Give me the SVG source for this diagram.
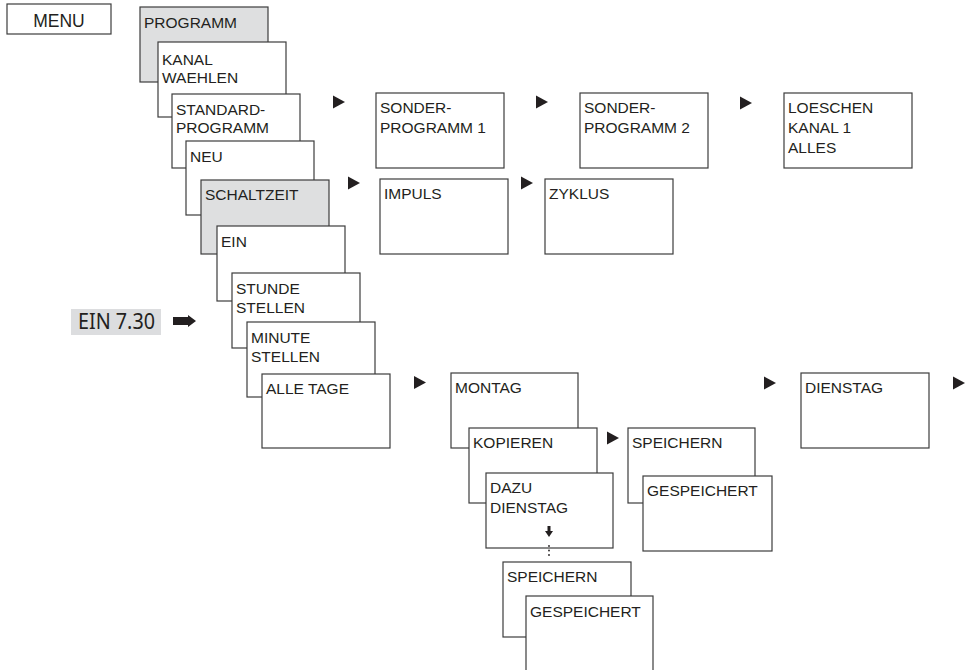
<svg xmlns="http://www.w3.org/2000/svg" width="967" height="670" viewBox="0 0 967 670">
<style>
.b{fill:#fff;stroke:#3c3c3c;stroke-width:1.2}
.g{fill:#dedfe0;stroke:#3c3c3c;stroke-width:1.2}
text{font-family:"Liberation Sans",Arial,sans-serif;font-size:15.5px;fill:#231f20}
.tri{fill:#231f20}
</style>
<defs>
<path id="tri" d="M0,-6.5 L12,0 L0,6.5 Z"/>
</defs>
<rect width="967" height="670" fill="#fff"/>
<g id="menu"><rect class="b" x="7" y="4" width="104" height="30"/><text x="59" y="27" text-anchor="middle" style="font-size:17.5px">MENU</text></g>
<g id="programm"><rect class="g" x="140" y="7" width="128" height="75"/><text x="144" y="28">PROGRAMM</text></g>
<g id="kanal"><rect class="b" x="158" y="42" width="128" height="75"/><text x="162" y="65">KANAL</text><text x="162" y="83">WAEHLEN</text></g>
<g id="standard"><rect class="b" x="172" y="94" width="128" height="74"/><text x="176" y="115">STANDARD-</text><text x="176" y="133">PROGRAMM</text></g>
<g id="neu"><rect class="b" x="186" y="141" width="128" height="74"/><text x="190" y="162">NEU</text></g>
<g id="schaltzeit"><rect class="g" x="201" y="180" width="128" height="74"/><text x="205" y="200">SCHALTZEIT</text></g>
<g id="ein"><rect class="b" x="217" y="226" width="128" height="75"/><text x="221" y="247">EIN</text></g>
<g id="stunde"><rect class="b" x="232" y="273" width="128" height="75"/><text x="236" y="294">STUNDE</text><text x="236" y="313">STELLEN</text></g>
<g id="minute"><rect class="b" x="247" y="322" width="128" height="75"/><text x="251" y="343">MINUTE</text><text x="251" y="362">STELLEN</text></g>
<g id="alletage"><rect class="b" x="262" y="374" width="128" height="74"/><text x="266" y="394">ALLE TAGE</text></g>
<g id="sonder1"><rect class="b" x="376" y="93" width="128" height="75"/><text x="380" y="113">SONDER-</text><text x="380" y="133">PROGRAMM 1</text></g>
<g id="sonder2"><rect class="b" x="580" y="93" width="128" height="75"/><text x="584" y="113">SONDER-</text><text x="584" y="133">PROGRAMM 2</text></g>
<g id="loeschen"><rect class="b" x="784" y="93" width="128" height="75"/><text x="788" y="113">LOESCHEN</text><text x="788" y="133">KANAL 1</text><text x="788" y="153">ALLES</text></g>
<g id="impuls"><rect class="b" x="380" y="179" width="128" height="75"/><text x="384" y="199">IMPULS</text></g>
<g id="zyklus"><rect class="b" x="545" y="179" width="128" height="75"/><text x="549" y="199">ZYKLUS</text></g>
<g id="ein730"><rect x="71" y="309" width="90" height="26" fill="#dcdddf"/><text x="78" y="329" textLength="77" lengthAdjust="spacingAndGlyphs" style="font-family:'Noto Sans','Open Sans',sans-serif;font-size:22px">EIN 7.30</text><path d="M173,317 H188 V315 L196,321 L188,327 V325 H173 Z" fill="#231f20"/></g>
<g id="montag"><rect class="b" x="451" y="373" width="127" height="75"/><text x="455" y="393">MONTAG</text></g>
<g id="kopieren"><rect class="b" x="469" y="428" width="128" height="75"/><text x="473" y="448">KOPIEREN</text></g>
<g id="dazu"><rect class="b" x="486" y="473" width="127" height="75"/><text x="490" y="493">DAZU</text><text x="490" y="513">DIENSTAG</text><path d="M547.5,526 H550.5 V531 H553 L549,537 L545,531 H547.5 Z" fill="#231f20"/></g>
<g id="speichern1"><rect class="b" x="628" y="428" width="127" height="75"/><text x="632" y="448">SPEICHERN</text></g>
<g id="gespeichert1"><rect class="b" x="643" y="476" width="129" height="75"/><text x="647" y="496">GESPEICHERT</text></g>
<g id="dienstag"><rect class="b" x="801" y="373" width="128" height="75"/><text x="805" y="393">DIENSTAG</text></g>
<g id="speichern2"><rect class="b" x="503" y="562" width="128" height="75"/><text x="507" y="582">SPEICHERN</text></g>
<g id="gespeichert2"><rect class="b" x="526" y="596" width="127" height="78"/><text x="530" y="617">GESPEICHERT</text></g>
<g id="connectors" class="tri">
<use href="#tri" x="333" y="102"/>
<use href="#tri" x="536" y="102"/>
<use href="#tri" x="740" y="103"/>
<use href="#tri" x="348" y="183"/>
<use href="#tri" x="521" y="183"/>
<use href="#tri" x="414" y="382.5"/>
<use href="#tri" x="607" y="438"/>
<use href="#tri" x="764" y="383"/>
<use href="#tri" x="953" y="383"/>
<circle cx="549" cy="546" r="0.9"/>
<circle cx="549" cy="550.5" r="0.9"/>
<circle cx="549" cy="555" r="0.9"/>
</g>
</svg>
